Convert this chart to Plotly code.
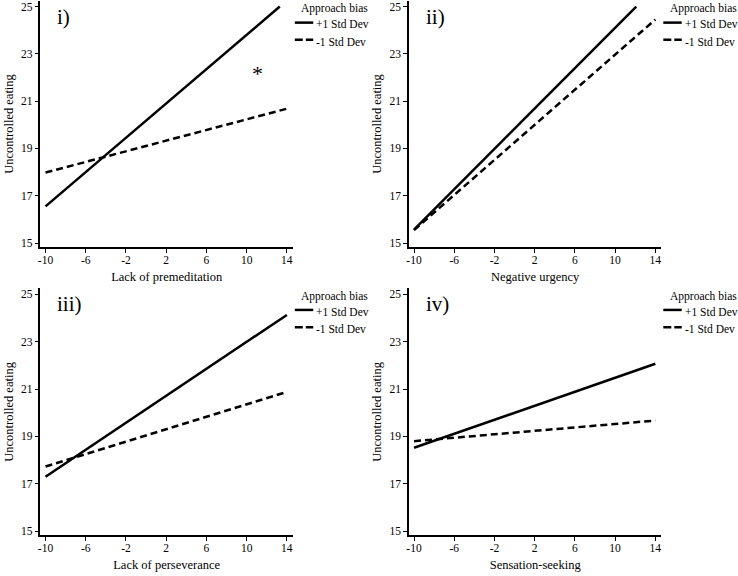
import plotly.graph_objects as go

W, H = 738, 576
FONT = "Liberation Serif, Times New Roman, serif"

# ---- data ----
panel_labels = ["i)", "ii)", "iii)", "iv)"]
x_titles = ["Lack of premeditation", "Negative urgency", "Lack of perseverance", "Sensation-seeking"]
y_title = "Uncontrolled eating"
series_names = ["+1 Std Dev", "-1 Std Dev"]
legend_title = "Approach bias"

plus_x = [[-10, 13.3], [-10, 12.1], [-10, 14], [-10, 14]]
plus_y = [[16.55, 25.0], [15.57, 25.0], [17.30, 24.13], [18.52, 22.07]]
minus_x = [[-10, 14], [-10, 14], [-10, 14], [-10, 14]]
minus_y = [[17.98, 20.68], [15.55, 24.45], [17.73, 20.88], [18.80, 19.67]]

x_ticks = [-10, -6, -2, 2, 6, 10, 14]
x_tick_text = ["-10", "-6", "-2", "2", "6", "10", "14"]
y_ticks = [15, 17, 19, 21, 23, 25]
y_tick_text = ["15", "17", "19", "21", "23", "25"]

# significance marker (panel i)
star_x, star_y = 11.1, 22.16

# ---- layout geometry (pixels) ----
col_left = [37.65, 407.65]
col_right = [291.06, 661.06]
row_top = [0.6, 289.4]
row_bottom = [248.2, 537.3]
x_range = [-10.5, 14.6]
y_range = [14.82, 25.25]

def px_x(p):
    return p / W

def px_y(p):
    return 1 - p / H

fig = go.Figure()
annotations = []
shapes = []

for i in range(4):
    r, c = divmod(i, 2)
    suffix = "" if i == 0 else str(i + 1)
    xa, ya = "x" + suffix, "y" + suffix
    fig.add_trace(go.Scatter(x=plus_x[i], y=plus_y[i], mode="lines", name=series_names[0],
                             line=dict(color="black", width=2.5), xaxis=xa, yaxis=ya,
                             showlegend=False))
    fig.add_trace(go.Scatter(x=minus_x[i], y=minus_y[i], mode="lines", name=series_names[1],
                             line=dict(color="black", width=2.5, dash="7px,4px"), xaxis=xa, yaxis=ya,
                             showlegend=False))
    axis_common = dict(showline=True, linecolor="black", linewidth=1.5, ticks="outside",
                       ticklen=4, tickwidth=1.3, tickcolor="black", showgrid=False, zeroline=False,
                       tickfont=dict(family=FONT, size=11.5, color="black"))
    fig.update_layout(**{
        "xaxis" + suffix: dict(domain=[px_x(col_left[c]), px_x(col_right[c])], range=x_range,
                               tickvals=x_ticks, ticktext=x_tick_text, anchor=ya,
                               ticklabelstandoff=-3,
                               title=dict(text=x_titles[i], font=dict(family=FONT, size=12.5, color="black"),
                                          standoff=7),
                               **axis_common),
        "yaxis" + suffix: dict(domain=[px_y(row_bottom[r]), px_y(row_top[r])], range=y_range,
                               tickvals=y_ticks, ticktext=y_tick_text, anchor=xa,
                               title=dict(text=y_title, font=dict(family=FONT, size=12.5, color="black"),
                                          standoff=5),
                               **axis_common),
    })

    dx = 370 * c
    # panel label
    lab_y = 17 if r == 0 else 305
    annotations.append(dict(text=panel_labels[i], x=px_x(52.5 + dx), y=px_y(lab_y), xref="paper", yref="paper",
                            xanchor="left", yanchor="middle", showarrow=False,
                            font=dict(family=FONT, size=21, color="black")))
    # legend (manual)
    if r == 0:
        ty, l1, t1, l2, t2 = 8.3, 22.7, 24.3, 40.0, 42.0
    else:
        ty, l1, t1, l2, t2 = 297.7, 311.0, 313.5, 328.3, 330.3
    annotations.append(dict(text=legend_title, x=px_x(297.5 + dx), y=px_y(ty), xref="paper", yref="paper",
                            xanchor="left", yanchor="middle", showarrow=False,
                            font=dict(family=FONT, size=11.5, color="black")))
    annotations.append(dict(text=series_names[0], x=px_x(312.5 + dx), y=px_y(t1), xref="paper", yref="paper",
                            xanchor="left", yanchor="middle", showarrow=False,
                            font=dict(family=FONT, size=11.5, color="black")))
    annotations.append(dict(text=series_names[1], x=px_x(312.5 + dx), y=px_y(t2), xref="paper", yref="paper",
                            xanchor="left", yanchor="middle", showarrow=False,
                            font=dict(family=FONT, size=11.5, color="black")))
    shapes.append(dict(type="line", xref="paper", yref="paper", x0=px_x(293 + dx), x1=px_x(311.5 + dx),
                       y0=px_y(l1), y1=px_y(l1), line=dict(color="black", width=2.5)))
    shapes.append(dict(type="line", xref="paper", yref="paper", x0=px_x(293 + dx), x1=px_x(311.5 + dx),
                       y0=px_y(l2), y1=px_y(l2), line=dict(color="black", width=2.5, dash="8px,3px")))

annotations.append(dict(text="*", x=star_x, y=star_y, xref="x", yref="y", showarrow=False,
                        xanchor="center", yanchor="middle",
                        font=dict(family=FONT, size=22, color="black")))

fig.update_layout(width=W, height=H, margin=dict(l=0, r=0, t=0, b=0),
                  paper_bgcolor="white", plot_bgcolor="white",
                  annotations=annotations, shapes=shapes, showlegend=False,
                  font=dict(family=FONT, color="black"))

fig.write_html("out.html", config={"displayModeBar": False},
               post_script="document.body.style.margin='0';document.body.style.overflow='hidden';")
